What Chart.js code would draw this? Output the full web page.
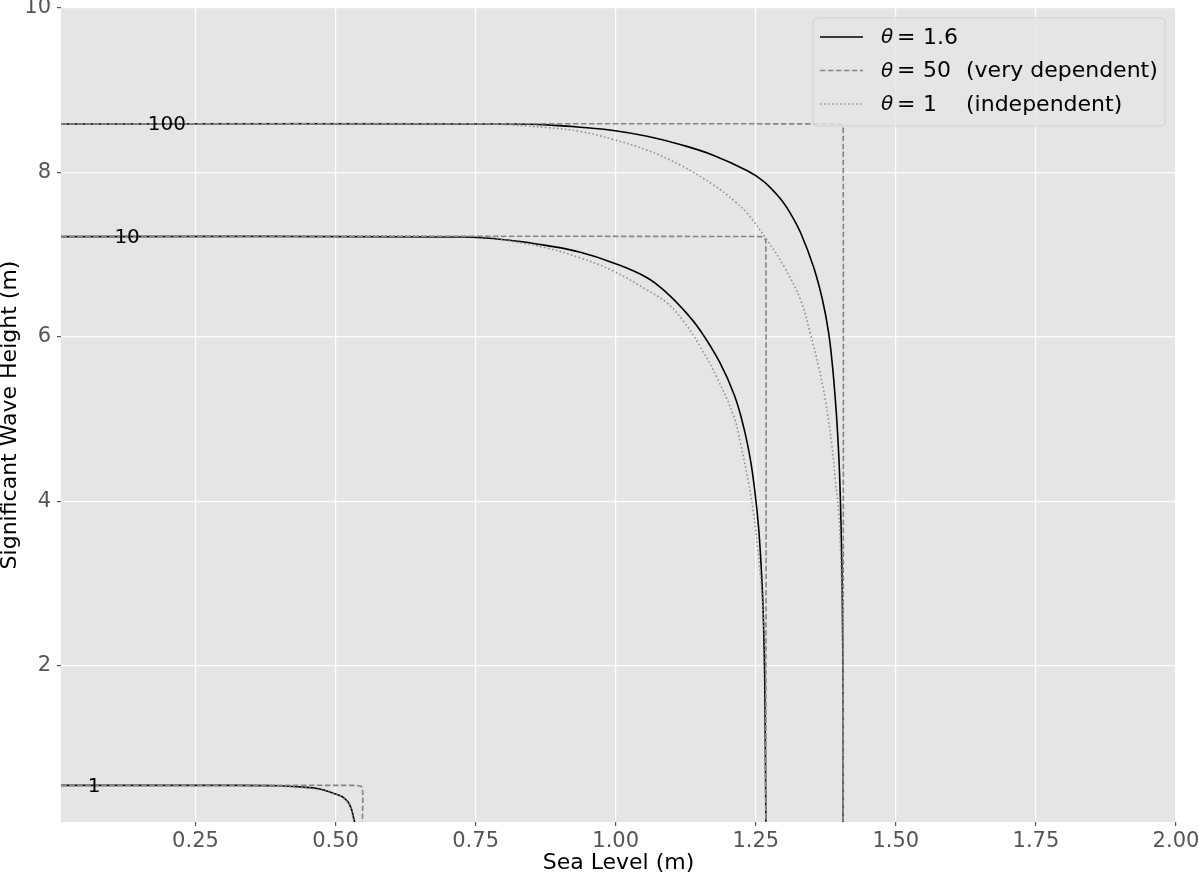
<!DOCTYPE html>
<html>
<head>
<meta charset="utf-8">
<script src="https://cdn.jsdelivr.net/npm/chart.js@4/dist/chart.umd.min.js"></script>
<style>
    html, body { margin: 0; padding: 0; background: #ffffff; }
    #wrap { width: 1199px; height: 874px; }
</style>
</head>
<body>
<div id="wrap"><canvas id="contourChart" width="1199" height="874"></canvas></div>
<script>
// Curvas de nivel (periodo de retorno conjunto): [nivel del mar, altura de ola]
const solid100 = [[0.01, 8.59], [0.817, 8.59], [0.878, 8.578], [0.937, 8.55], [0.996, 8.51], [1.056, 8.44],
    [1.115, 8.34], [1.174, 8.21], [1.235, 8.02], [1.265, 7.886], [1.294, 7.68], [1.312, 7.50], [1.330, 7.266],
    [1.353, 6.853], [1.369, 6.452], [1.380, 6.051], [1.387, 5.638], [1.392, 5.237], [1.396, 4.836],
    [1.399, 4.423], [1.401, 4.022], [1.403, 3.45], [1.404, 3.05], [1.405, 2.41], [1.406, 1.59], [1.406, 0.1]];
const dashed100 = [[0.01, 8.59], [1.398, 8.59], [1.404, 8.575], [1.406, 8.55], [1.406, 0.1]];
const dotted100 = [[0.01, 8.59], [0.758, 8.59], [0.878, 8.545], [0.937, 8.497], [0.996, 8.40], [1.056, 8.27],
    [1.115, 8.09], [1.174, 7.85], [1.214, 7.64], [1.235, 7.50], [1.270, 7.18], [1.300, 6.86], [1.330, 6.45],
    [1.347, 6.05], [1.362, 5.64], [1.374, 5.24], [1.386, 4.67], [1.392, 4.26], [1.398, 3.86], [1.401, 3.45],
    [1.403, 3.05], [1.405, 2.65], [1.406, 1.83], [1.406, 0.1]];

const solid10 = [[0.01, 7.22], [0.728, 7.214], [0.817, 7.17], [0.878, 7.11], [0.937, 7.03], [0.996, 6.90],
    [1.056, 6.72], [1.092, 6.53], [1.121, 6.33], [1.150, 6.087], [1.186, 5.687], [1.212, 5.286],
    [1.229, 4.885], [1.241, 4.484], [1.249, 4.083], [1.255, 3.682], [1.259, 3.281], [1.262, 2.88],
    [1.264, 2.479], [1.266, 1.835], [1.267, 1.106], [1.268, 0.1]];
const dashed10 = [[0.01, 7.22], [1.260, 7.22], [1.265, 7.20], [1.268, 7.16], [1.268, 0.1]];
const dotted10 = [[0.01, 7.22], [0.758, 7.22], [0.817, 7.16], [0.878, 7.08], [0.937, 6.96], [0.996, 6.80],
    [1.056, 6.57], [1.092, 6.41], [1.121, 6.19], [1.151, 5.88], [1.181, 5.50], [1.211, 5.03], [1.223, 4.70],
    [1.236, 4.26], [1.246, 3.86], [1.253, 3.45], [1.259, 3.05], [1.263, 2.65], [1.267, 2.04], [1.268, 0.1]];

const solid1 = [[0.01, 0.545], [0.30, 0.545], [0.40, 0.54], [0.44, 0.525], [0.47, 0.505], [0.496, 0.45],
    [0.514, 0.40], [0.526, 0.30], [0.534, 0.1]];
const dashed1 = [[0.01, 0.545], [0.535, 0.545], [0.544, 0.535], [0.548, 0.52], [0.548, 0.1]];
const dotted1 = [[0.01, 0.545], [0.30, 0.543], [0.40, 0.535], [0.44, 0.52], [0.47, 0.495], [0.494, 0.45],
    [0.512, 0.40], [0.525, 0.30], [0.533, 0.1]];

// Etiquetas de las curvas y marcas de los ejes
const contourLabels = ['100', '10', '1'];
const contourLabelX = [0.199, 0.128, 0.069];
const contourLabelY = [8.59, 7.22, 0.545];
const xTickValues = [0.25, 0.50, 0.75, 1.00, 1.25, 1.50, 1.75, 2.00];
const yTickValues = [2, 4, 6, 8, 10];
const legendValues = ['1.6', '50', '1'];
const legendNotes = ['', '(very dependent)', '(independent)'];

const FONT = 'DejaVu Sans';

// Fondo gris estilo ggplot dentro del area de la grafica
const backgroundPlugin = {
    id: 'plotBackground',
    beforeDraw(chart) {
        const { ctx, chartArea } = chart;
        ctx.save();
        ctx.fillStyle = '#e5e5e5';
        ctx.fillRect(chartArea.left, chartArea.top, chartArea.right - chartArea.left, chartArea.bottom - chartArea.top);
        ctx.restore();
    }
};

// Textos extra: etiquetas de las curvas, titulos de ejes y leyenda
const overlayPlugin = {
    id: 'overlay',
    afterDraw(chart) {
        const { ctx, chartArea } = chart;
        const xs = chart.scales.x;
        const ys = chart.scales.y;
        ctx.save();

        ctx.fillStyle = '#000000';
        ctx.font = '20px ' + FONT;
        ctx.textAlign = 'center';
        ctx.textBaseline = 'middle';
        contourLabels.forEach((lab, i) => {
            ctx.fillText(lab, xs.getPixelForValue(contourLabelX[i]), ys.getPixelForValue(contourLabelY[i]) + 1);
        });

        ctx.font = '22px ' + FONT;
        ctx.fillText('Sea Level (m)', (chartArea.left + chartArea.right) / 2, chartArea.bottom + 41);
        ctx.save();
        ctx.translate(10, (chartArea.top + chartArea.bottom) / 2);
        ctx.rotate(-Math.PI / 2);
        ctx.fillText('Significant Wave Height (m)', 0, 0);
        ctx.restore();

        // leyenda
        const bx = 813, by = 18, bw = 352, bh = 108;
        ctx.beginPath();
        ctx.roundRect(bx, by, bw, bh, 4);
        ctx.fillStyle = 'rgba(229,229,229,0.8)';
        ctx.fill();
        ctx.strokeStyle = 'rgba(204,204,204,0.8)';
        ctx.lineWidth = 1;
        ctx.stroke();

        const rows = [37, 70.5, 104];
        chart.data.datasets.slice(0, 3).forEach((ds, i) => {
            ctx.beginPath();
            ctx.setLineDash(ds.borderDash || []);
            ctx.strokeStyle = ds.borderColor;
            ctx.lineWidth = ds.borderWidth;
            ctx.moveTo(820, rows[i]);
            ctx.lineTo(863, rows[i]);
            ctx.stroke();
            ctx.setLineDash([]);

            ctx.fillStyle = '#000000';
            ctx.textAlign = 'left';
            ctx.font = 'italic 20px ' + FONT;
            ctx.fillText('\u03b8', 881, rows[i] + 1);
            ctx.font = '22px ' + FONT;
            ctx.fillText('=', 897, rows[i] + 1);
            ctx.fillText(legendValues[i], 923, rows[i] + 1);
            if (legendNotes[i]) ctx.fillText(legendNotes[i], 966, rows[i] + 1);
        });
        ctx.restore();
    }
};

function makeSet(label, data, color, dash, order) {
    return {
        label: label,
        data: data.map(p => ({ x: p[0], y: p[1] })),
        showLine: true,
        borderColor: color,
        borderWidth: 1.6,
        borderDash: dash,
        pointRadius: 0,
        tension: 0.4,
        fill: false,
        order: order
    };
}

const datasets = [
    makeSet('theta 1.6', solid100, '#000000', [], 3),
    makeSet('theta 50', dashed100, '#858585', [5.5, 2.5], 2),
    makeSet('theta 1', dotted100, '#8c8c8c', [1.5, 2.5], 1),
    makeSet('theta 1.6', solid10, '#000000', [], 3),
    makeSet('theta 50', dashed10, '#858585', [5.5, 2.5], 2),
    makeSet('theta 1', dotted10, '#8c8c8c', [1.5, 2.5], 1),
    makeSet('theta 1.6', solid1, '#000000', [], 3),
    makeSet('theta 50', dashed1, '#858585', [5.5, 2.5], 2),
    makeSet('theta 1', dotted1, '#8c8c8c', [1.5, 2.5], 1)
];

// Se quitan los rellenos automaticos para que el area quede en su sitio
function noPadding(scale) {
    scale.paddingTop = 0;
    scale.paddingBottom = 0;
    scale.paddingLeft = 0;
    scale.paddingRight = 0;
}

const ctx = document.getElementById('contourChart').getContext('2d');
new Chart(ctx, {
    type: 'scatter',
    data: { datasets: datasets },
    options: {
        responsive: false,
        animation: false,
        layout: { padding: { top: 8, right: 23, left: 0, bottom: 0 } },
        plugins: { legend: { display: false }, tooltip: { enabled: false } },
        scales: {
            x: {
                type: 'linear',
                min: 0.01,
                max: 2.0,
                afterBuildTicks: scale => { scale.ticks = xTickValues.map(v => ({ value: v })); },
                afterFit: scale => { scale.height = 52; noPadding(scale); },
                ticks: {
                    callback: v => v.toFixed(2),
                    color: '#555555',
                    font: { family: FONT, size: 21 },
                    padding: 3,
                    maxRotation: 0
                },
                grid: { color: '#ffffff', lineWidth: 1.2, tickLength: 4, tickColor: '#555555' },
                border: { display: false }
            },
            y: {
                type: 'linear',
                min: 0.1,
                max: 10,
                afterBuildTicks: scale => { scale.ticks = yTickValues.map(v => ({ value: v })); },
                afterFit: scale => { scale.width = 61; noPadding(scale); },
                ticks: {
                    color: '#555555',
                    font: { family: FONT, size: 21 },
                    padding: 6
                },
                grid: { color: '#ffffff', lineWidth: 1.2, tickLength: 4, tickColor: '#555555' },
                border: { display: false }
            }
        }
    },
    plugins: [backgroundPlugin, overlayPlugin]
});
</script>
</body>
</html>
